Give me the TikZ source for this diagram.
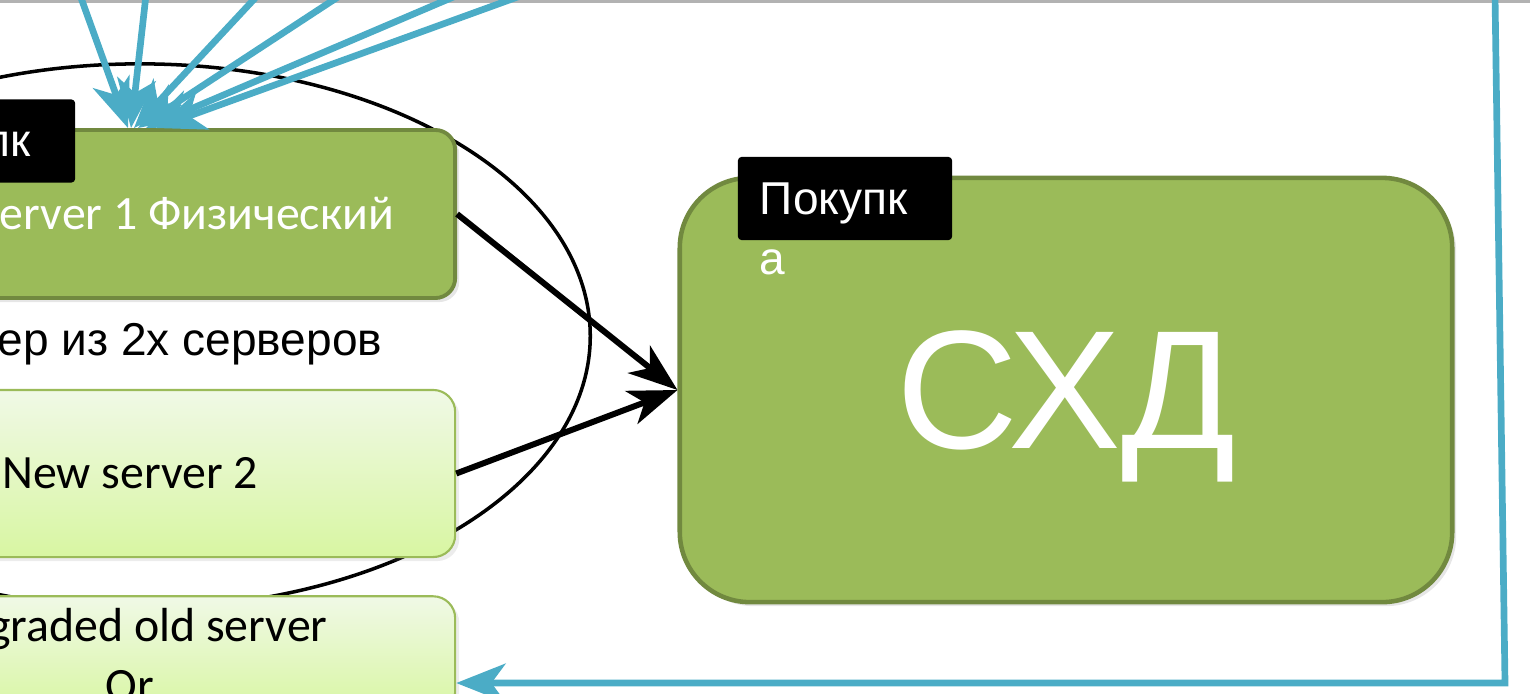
\documentclass[tikz,border=0pt]{standalone}
\usepackage{fontspec}
\setmainfont{Carlito}
\newfontfamily\arialfont{Liberation Sans}
\usetikzlibrary{arrows.meta, positioning, calc, shadows}
\definecolor{srvgreen}{HTML}{9BBB59}
\definecolor{srvedge}{HTML}{71893F}
\definecolor{paletop}{HTML}{F0F9E6}
\definecolor{palebot}{HTML}{D8F6A2}
\definecolor{linkblue}{HTML}{4BACC6}

\begin{document}
\begin{tikzpicture}[
  x=0.01cm, y=-0.01cm,
  darkbox/.style={draw=srvedge, line width=1.1pt, fill=srvgreen, rounded corners=0.2cm, text=white, font=\fontsize{13.6}{16}\selectfont, drop shadow={opacity=0.2, shadow xshift=0.04cm, shadow yshift=-0.04cm}},
  palebox/.style={draw=srvgreen, line width=0.6pt, top color=paletop, bottom color=palebot, rounded corners=0.22cm, align=center, font=\fontsize{13.6}{17.2}\selectfont, drop shadow={opacity=0.15, shadow xshift=0.04cm, shadow yshift=-0.04cm}},
  tag/.style={fill=black, text=white, rounded corners=1pt, minimum width=2.14cm, minimum height=0.83cm, text width=1.7cm, align=left, inner sep=0pt, text depth=0pt, font=\arialfont\fontsize{13.1}{16}\selectfont},
  tagtail/.style={text=white, inner sep=0pt, font=\arialfont\fontsize{13.1}{16}\selectfont},
  blackarr/.style={-{Stealth[length=14pt, width=10pt, inset=4pt]}, line width=1.7pt},
  blarr/.style={-{Stealth[length=14pt, width=11pt, inset=4pt]}, line width=1.9pt, draw=linkblue}
]
\useasboundingbox (0,0) rectangle (1530,693);
\clip (0,0) rectangle (1530,693);

% edge of the shape above
\draw[black!30, line width=0.04cm] (0,1) -- (1530,1);

% cluster
\draw[line width=1pt] (140,336) ellipse [x radius=4.5cm, y radius=2.72cm];

\node[darkbox, minimum width=5.38cm, minimum height=1.68cm] (srvA) at (186,214) {Server 1 Физический};
\node[palebox, minimum width=6.5cm, minimum height=1.67cm] (srvB) at (130,473.5) {New server 2};
\node[palebox, minimum width=6.5cm, minimum height=1.14cm] (srvC) at (130,655) {Upgraded old server\\Or};
\node[anchor=base east, inner sep=0pt, font=\arialfont\fontsize{13.1}{16}\selectfont] (clustertxt) at (383,355) {Кластер из 2х серверов};

\node[darkbox, rounded corners=0.7cm, line width=1.3pt, minimum width=7.72cm, minimum height=4.24cm, text depth=0pt, font=\arialfont\fontsize{48}{54}\selectfont] (storage) at (1066,390) {СХД};

\node[tag] (tagA) at (-32,141) {Покупк};
\node[tag] (tagB) at (845,198.5) {Покупк};
\node[tagtail, anchor=north west] (tagBa) at ([xshift=0.22cm, yshift=-0.08cm]tagB.south west) {а};

\draw[blackarr] (srvA.east) -- (storage.west);
\draw[blackarr] (srvB.east) -- (storage.west);

% links from above
\foreach \sx/\ex in {80/128, 146/131, 258/134, 341/138, 458/146, 523/156} {
  \coordinate (src\sx) at (\sx,-5);
  \draw[blarr] (src\sx) -- ($(srvA.north)+({\ex-186},0)$);
}

\coordinate (feedtop) at (1495,-5);
\coordinate (feedcorner) at (1505,683);
\draw[blarr] (feedtop) -- (feedcorner) -- (srvC.east |- feedcorner);
\end{tikzpicture}
\end{document}
